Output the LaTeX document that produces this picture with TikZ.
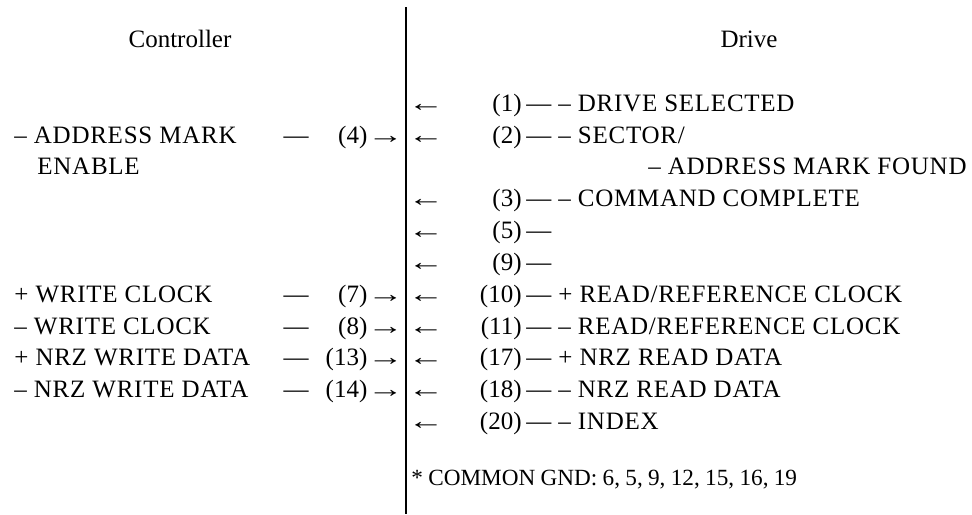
\documentclass[tikz,border=0pt]{standalone}
\usepackage{fontspec}
\setmainfont{Liberation Serif}
\usepackage{tikz}

\newcommand{\sigout}{\scalebox{1.45}[1]{→}}
\newcommand{\sigin}{\scalebox{1.45}[1]{←}}
\newcommand{\notefont}{\fontsize{11.6}{13}\selectfont\spaceskip 0.23em\relax}

\begin{document}
\begin{tikzpicture}[x=0.5pt, y=-0.5pt,
    txt/.style={inner sep=0pt, font=\fontsize{12.5}{15}\selectfont},
    wide/.style={font=\fontsize{12.5}{15}\selectfont\addfontfeature{LetterSpace=3}},
    lab/.style={txt, wide, anchor=base west},
    num/.style={txt, anchor=base east},
    heading/.style={txt, anchor=base},
    note/.style={inner sep=0pt, anchor=base west, font=\notefont},
    bus/.style={line width=0.9pt}
]
\useasboundingbox (0,0) rectangle (972,514);

% headings
\node[heading] (ctrlhead) at (180,47) {Controller};
\node[heading] (drivehead) at (749,47) {Drive};

% interface line
\coordinate (bustop) at (406,7);
\coordinate (busbot) at (406,514);
\draw[bus] (bustop) -- (busbot);

% controller side
\node[lab] (amenable) at (14,143) {– ADDRESS MARK};
\node[lab] (amenable2) at (37,174) {ENABLE};
\node[lab] (wclkpos) at (14,302) {+ WRITE CLOCK};
\node[lab] (wclkneg) at (14,334) {– WRITE CLOCK};
\node[lab] (wdatpos) at (14,365) {+ NRZ WRITE DATA};
\node[lab] (wdatneg) at (14,397) {– NRZ WRITE DATA};

\node[heading] (dash4) at (296,143) {—};
\node[heading] (dash7) at (296,302) {—};
\node[heading] (dash8) at (296,334) {—};
\node[heading] (dash13) at (296,365) {—};
\node[heading] (dash14) at (296,397) {—};

\node[num] (pin4) at (404,143) {(4)\sigout};
\node[num] (pin7) at (404,302) {(7)\sigout};
\node[num] (pin8) at (404,334) {(8)\sigout};
\node[num] (pin13) at (404,365) {(13)\sigout};
\node[num] (pin14) at (404,397) {(14)\sigout};

% drive side
\node[heading] (in1) at (426,111) {\sigin};
\node[heading] (in2) at (426,143) {\sigin};
\node[heading] (in3) at (426,206) {\sigin};
\node[heading] (in5) at (426,238) {\sigin};
\node[heading] (in9) at (426,270) {\sigin};
\node[heading] (in10) at (426,302) {\sigin};
\node[heading] (in11) at (426,334) {\sigin};
\node[heading] (in17) at (426,365) {\sigin};
\node[heading] (in18) at (426,397) {\sigin};
\node[heading] (in20) at (426,429) {\sigin};

\node[num] (pin1) at (522,111) {(1)};
\node[num] (pin2) at (522,143) {(2)};
\node[num] (pin3) at (522,206) {(3)};
\node[num] (pin5) at (522,238) {(5)};
\node[num] (pin9) at (522,270) {(9)};
\node[num] (pin10) at (522,302) {(10)};
\node[num] (pin11) at (522,334) {(11)};
\node[num] (pin17) at (522,365) {(17)};
\node[num] (pin18) at (522,397) {(18)};
\node[num] (pin20) at (522,429) {(20)};

\node[lab] (drvsel) at (526,111) {— – DRIVE SELECTED};
\node[lab] (sector) at (526,143) {— – SECTOR/};
\node[lab, anchor=base east] (amfound) at (967,174) {– ADDRESS MARK FOUND};
\node[lab] (cmdcpl) at (526,206) {— – COMMAND COMPLETE};
\node[lab] (gnd5) at (526,238) {—};
\node[lab] (gnd9) at (526,270) {—};
\node[lab] (rclkpos) at (526,302) {— + READ/REFERENCE CLOCK};
\node[lab] (rclkneg) at (526,334) {— – READ/REFERENCE CLOCK};
\node[lab] (rdatpos) at (526,365) {— + NRZ READ DATA};
\node[lab] (rdatneg) at (526,397) {— – NRZ READ DATA};
\node[lab] (index) at (526,429) {— – INDEX};

\node[note] (gndnote) at (411,485) {* COMMON GND: 6, 5, 9, 12, 15, 16, 19};
\end{tikzpicture}
\end{document}
